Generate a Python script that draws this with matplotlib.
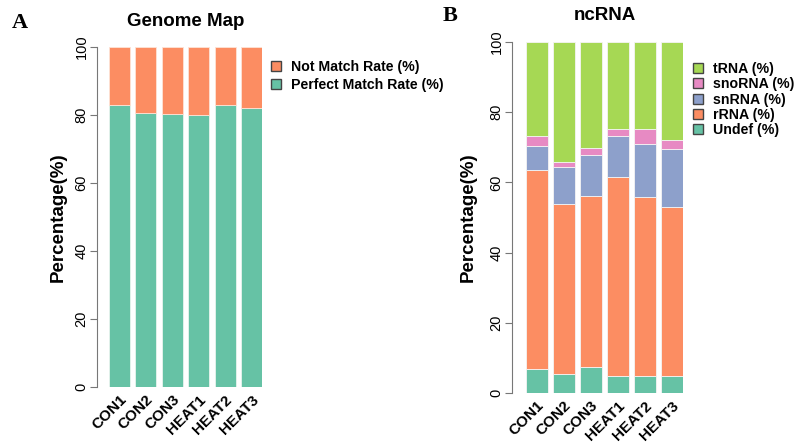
import numpy as np
import matplotlib
matplotlib.use("Agg")
import matplotlib.pyplot as plt
from matplotlib.patches import Patch

plt.rcParams['font.family'] = ['Liberation Sans', 'DejaVu Sans']

samples = ["CON1", "CON2", "CON3", "HEAT1", "HEAT2", "HEAT3"]

# Genome map (%)
perfect_match = [82.9, 80.7, 80.4, 80.1, 82.8, 82.1]
not_match = [100 - v for v in perfect_match]

# ncRNA composition (%)
undef = [6.9, 5.5, 7.3, 4.9, 4.8, 4.8]
rrna = [56.5, 48.3, 48.7, 56.6, 50.9, 48.2]
snrna = [6.9, 10.5, 11.8, 11.8, 15.2, 16.5]
snorna = [3.0, 1.6, 2.0, 2.0, 4.3, 2.7]
trna = [100 - (a + b + c + d) for a, b, c, d in zip(undef, rrna, snrna, snorna)]

green = "#66C2A5"
orange = "#FC8D62"
blue = "#8DA0CB"
pink = "#E78AC3"
lime = "#A6D854"

W, H = 799, 445
fig = plt.figure(figsize=(W / 100, H / 100), dpi=100)


def px_axes(x0, x1, ytop, ybot):
    return fig.add_axes([x0 / W, 1 - ybot / H, (x1 - x0) / W, (ybot - ytop) / H])


def style(ax, spine_px, labelpad):
    for s in ["top", "right", "bottom"]:
        ax.spines[s].set_visible(False)
    # outward offset is in points
    ax.spines["left"].set_position(("outward", spine_px * 0.72))
    ax.spines["left"].set_bounds(0, 100)
    ax.spines["left"].set_color("#777777")
    ax.set_ylim(0, 100)
    ax.set_xlim(-0.4, 5.4)
    ax.set_yticks([0, 20, 40, 60, 80, 100])
    ax.set_yticklabels(["0", "20", "40", "60", "80", "100"], rotation=90,
                       va="center", fontsize=10.5)
    ax.tick_params(axis="y", colors="#777777", labelcolor="black", length=5, pad=1)
    x = np.arange(len(samples))
    ax.set_xticks(x)
    ax.set_xticklabels(samples, rotation=45, ha="right", rotation_mode="anchor",
                       fontsize=11, fontweight="bold")
    ax.tick_params(axis="x", length=0, pad=4)
    ax.set_ylabel("Percentage(%)", fontsize=13.5, fontweight="bold", labelpad=labelpad)
    return x


# Panel A
axA = px_axes(109, 262, 47, 387)
x = style(axA, 12, 6)
axA.bar(x, perfect_match, width=0.8, color=green, edgecolor="#e8f4ee", linewidth=0.6)
axA.bar(x, not_match, bottom=perfect_match, width=0.8, color=orange,
        edgecolor="#fde3d6", linewidth=0.6)
axA.set_title("Genome Map", fontsize=13.5, fontweight="bold", pad=15)
axA.legend(handles=[Patch(facecolor=orange, edgecolor="#444444", label="Not Match Rate (%)"),
                    Patch(facecolor=green, edgecolor="#444444", label="Perfect Match Rate (%)")],
           loc="upper left", bbox_to_anchor=(1.02, 0.978), frameon=False,
           prop={"weight": "bold", "size": 10.2}, handlelength=0.7, handleheight=0.7,
           handletextpad=0.7, labelspacing=0.25, borderaxespad=0)

# Panel B
axB = px_axes(526, 683, 42, 393)
x = style(axB, 14, 9)
bottom = np.zeros(len(samples))
for vals, col in [(undef, green), (rrna, orange), (snrna, blue), (snorna, pink), (trna, lime)]:
    axB.bar(x, vals, bottom=bottom, width=0.8, color=col, edgecolor="#f4f4f4", linewidth=0.6)
    bottom = bottom + np.array(vals)
axB.set_title("ncRNA", fontsize=13.5, fontweight="bold", pad=16)
axB.legend(handles=[Patch(facecolor=lime, edgecolor="#444444", label="tRNA (%)"),
                    Patch(facecolor=pink, edgecolor="#444444", label="snoRNA (%)"),
                    Patch(facecolor=blue, edgecolor="#444444", label="snRNA (%)"),
                    Patch(facecolor=orange, edgecolor="#444444", label="rRNA (%)"),
                    Patch(facecolor=green, edgecolor="#444444", label="Undef (%)")],
           loc="upper left", bbox_to_anchor=(1.03, 0.96), frameon=False,
           prop={"weight": "bold", "size": 10.2}, handlelength=0.7, handleheight=0.7,
           handletextpad=0.7, labelspacing=0.1, borderaxespad=0)

fig.text(12 / W, 1 - 23 / H, "A", fontsize=16, fontweight="bold",
         family="Liberation Serif", va="center", ha="left")
fig.text(443 / W, 1 - 16 / H, "B", fontsize=16, fontweight="bold",
         family="Liberation Serif", va="center", ha="left")

fig.savefig("out.png", dpi=100)
